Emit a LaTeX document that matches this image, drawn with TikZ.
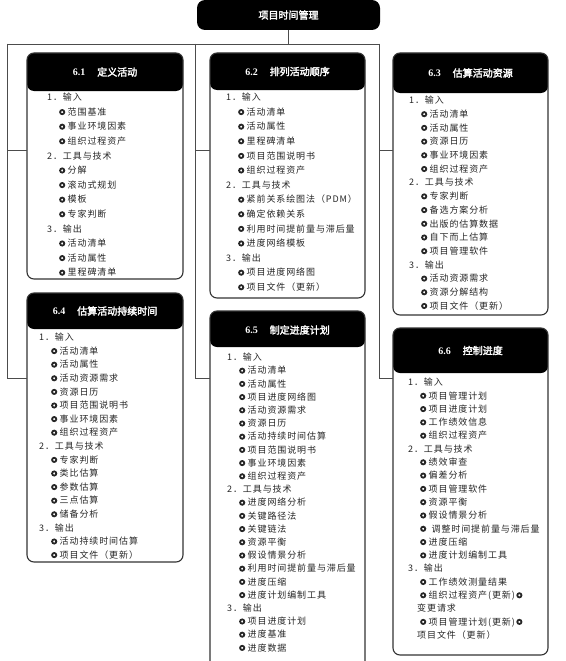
\documentclass[tikz,border=0pt]{standalone}
\usepackage{fontspec}
\setmainfont{Liberation Serif}
\newfontfamily\cjk[LetterSpace=10]{Noto Sans CJK SC}
\newfontfamily\cjkb[FakeBold=2.5]{Noto Sans CJK SC}
\usepackage{tikz}

\newcommand{\ringmark}{\tikz[baseline=-3.3pt]\draw[line width=1.8pt] (0,0) circle (2.1pt);}
\newcommand{\bul}{\hspace*{12pt}\ringmark\hspace{2.5pt}}

\begin{document}
\begin{tikzpicture}[x=1pt,y=-1pt,
    frame/.style={draw=black!70,line width=0.9pt},
    procbox/.style={draw=black!80,line width=1.1pt,rounded corners=7pt,fill=white,
      anchor=north west,minimum width=155,outer sep=0pt,inner sep=0pt,
      path picture={\fill[black] (path picture bounding box.north west) rectangle
        ([yshift=-#1]path picture bounding box.north east);}},
    heading/.style={text=white,font=\cjkb\fontsize{10}{12}\selectfont},
    items/.style={anchor=north west,align=left,inner sep=0pt,text=black!85}]
    \useasboundingbox (0,0) rectangle (565,661);
    \clip (0,0) rectangle (565,661);
    \node[fill=black,rounded corners=8pt,minimum width=183,minimum height=30,
      inner sep=0pt,heading] (root) at (288.5,15) {项目时间管理};
    \coordinate (busL) at (7,44);
    \coordinate (busM) at (195,44);
    \coordinate (busR) at (379,44);
    \coordinate (rowA) at (0,150);
    \coordinate (rowB) at (0,378);
    \node[procbox=38,minimum width=156,minimum height=226] (p61) at (27,53) {};
    \node[procbox=37,minimum height=245] (p62) at (210,53) {};
    \node[procbox=40,minimum height=262] (p63) at (393,53) {};
    \node[procbox=36,minimum width=156,minimum height=269] (p64) at (27,293) {};
    \node[procbox=36,minimum height=380] (p65) at (210,311) {};
    \node[procbox=45,minimum height=327] (p66) at (393,328) {};
    \draw[frame] (root) -- (root |- busL);
    \draw[frame] (busL) -- (busR);
    \draw[frame] (busL) |- (p61.west |- rowA);
    \draw[frame] (busL) |- (p64.west |- rowB);
    \draw[frame] (busM) |- (p62.west |- rowA);
    \draw[frame] (busM) |- (p65.west |- rowB);
    \draw[frame] (busR) |- (p63.west |- rowA);
    \draw[frame] (busR) |- (p66.west |- rowB);
    \node[heading] (h61) at (105,72) {{\rmfamily\bfseries 6.1}\hspace{12pt}定义活动};
    \node[heading] (h62) at (287.5,71.5) {{\rmfamily\bfseries 6.2}\hspace{12pt}排列活动顺序};
    \node[heading] (h63) at (470.5,73) {{\rmfamily\bfseries 6.3}\hspace{12pt}估算活动资源};
    \node[heading] (h64) at (105,311) {{\rmfamily\bfseries 6.4}\hspace{12pt}估算活动持续时间};
    \node[heading] (h65) at (287.5,330) {{\rmfamily\bfseries 6.5}\hspace{12pt}制定进度计划};
    \node[heading] (h66) at (470.5,350.5) {{\rmfamily\bfseries 6.6}\hspace{12pt}控制进度};
    \node[items,font=\cjk\fontsize{9}{14.6}\selectfont] (b61) at (47,93) {1．输入\\
      \bul 范围基准\\ \bul 事业环境因素\\ \bul 组织过程资产\\
      2．工具与技术\\
      \bul 分解\\ \bul 滚动式规划\\ \bul 模板\\ \bul 专家判断\\
      3．输出\\
      \bul 活动清单\\ \bul 活动属性\\ \bul 里程碑清单};
    \node[items,font=\cjk\fontsize{9}{14.6}\selectfont] (b62) at (226,93) {1．输入\\
      \bul 活动清单\\ \bul 活动属性\\ \bul 里程碑清单\\ \bul 项目范围说明书\\ \bul 组织过程资产\\
      2．工具与技术\\
      \bul 紧前关系绘图法（PDM）\\ \bul 确定依赖关系\\ \bul 利用时间提前量与滞后量\\ \bul 进度网络模板\\
      3．输出\\
      \bul 项目进度网络图\\ \bul 项目文件（更新）};
    \node[items,font=\cjk\fontsize{9}{13.7}\selectfont] (b63) at (409,96) {1．输入\\
      \bul 活动清单\\ \bul 活动属性\\ \bul 资源日历\\ \bul 事业环境因素\\ \bul 组织过程资产\\
      2．工具与技术\\
      \bul 专家判断\\ \bul 备选方案分析\\ \bul 出版的估算数据\\ \bul 自下而上估算\\ \bul 项目管理软件\\
      3．输出\\
      \bul 活动资源需求\\ \bul 资源分解结构\\ \bul 项目文件（更新）};
    \node[items,font=\cjk\fontsize{9}{13.6}\selectfont] (b64) at (39,333) {1．输入\\
      \bul 活动清单\\ \bul 活动属性\\ \bul 活动资源需求\\ \bul 资源日历\\ \bul 项目范围说明书\\
      \bul 事业环境因素\\ \bul 组织过程资产\\
      2．工具与技术\\
      \bul 专家判断\\ \bul 类比估算\\ \bul 参数估算\\ \bul 三点估算\\ \bul 储备分析\\
      3．输出\\
      \bul 活动持续时间估算\\ \bul 项目文件（更新）};
    \node[items,font=\cjk\fontsize{9}{13.2}\selectfont] (b65) at (227,353) {1．输入\\
      \bul 活动清单\\ \bul 活动属性\\ \bul 项目进度网络图\\ \bul 活动资源需求\\ \bul 资源日历\\
      \bul 活动持续时间估算\\ \bul 项目范围说明书\\ \bul 事业环境因素\\ \bul 组织过程资产\\
      2．工具与技术\\
      \bul 进度网络分析\\ \bul 关键路径法\\ \bul 关键链法\\ \bul 资源平衡\\ \bul 假设情景分析\\
      \bul 利用时间提前量与滞后量\\ \bul 进度压缩\\ \bul 进度计划编制工具\\
      3．输出\\
      \bul 项目进度计划\\ \bul 进度基准\\ \bul 进度数据};
    \node[items,font=\cjk\fontsize{9}{13.3}\selectfont] (b66) at (408,378) {1．输入\\
      \bul 项目管理计划\\ \bul 项目进度计划\\ \bul 工作绩效信息\\ \bul 组织过程资产\\
      2．工具与技术\\
      \bul 绩效审查\\ \bul 偏差分析\\ \bul 项目管理软件\\ \bul 资源平衡\\ \bul 假设情景分析\\
      \bul \ 调整时间提前量与滞后量\\ \bul 进度压缩\\ \bul 进度计划编制工具\\
      3．输出\\
      \bul 工作绩效测量结果\\
      \bul 组织过程资产(更新)\,\ringmark\\
      \hspace*{9pt}变更请求\\
      \bul 项目管理计划(更新)\,\ringmark\\
      \hspace*{9pt}项目文件（更新）};
  \end{tikzpicture}
\end{document}
